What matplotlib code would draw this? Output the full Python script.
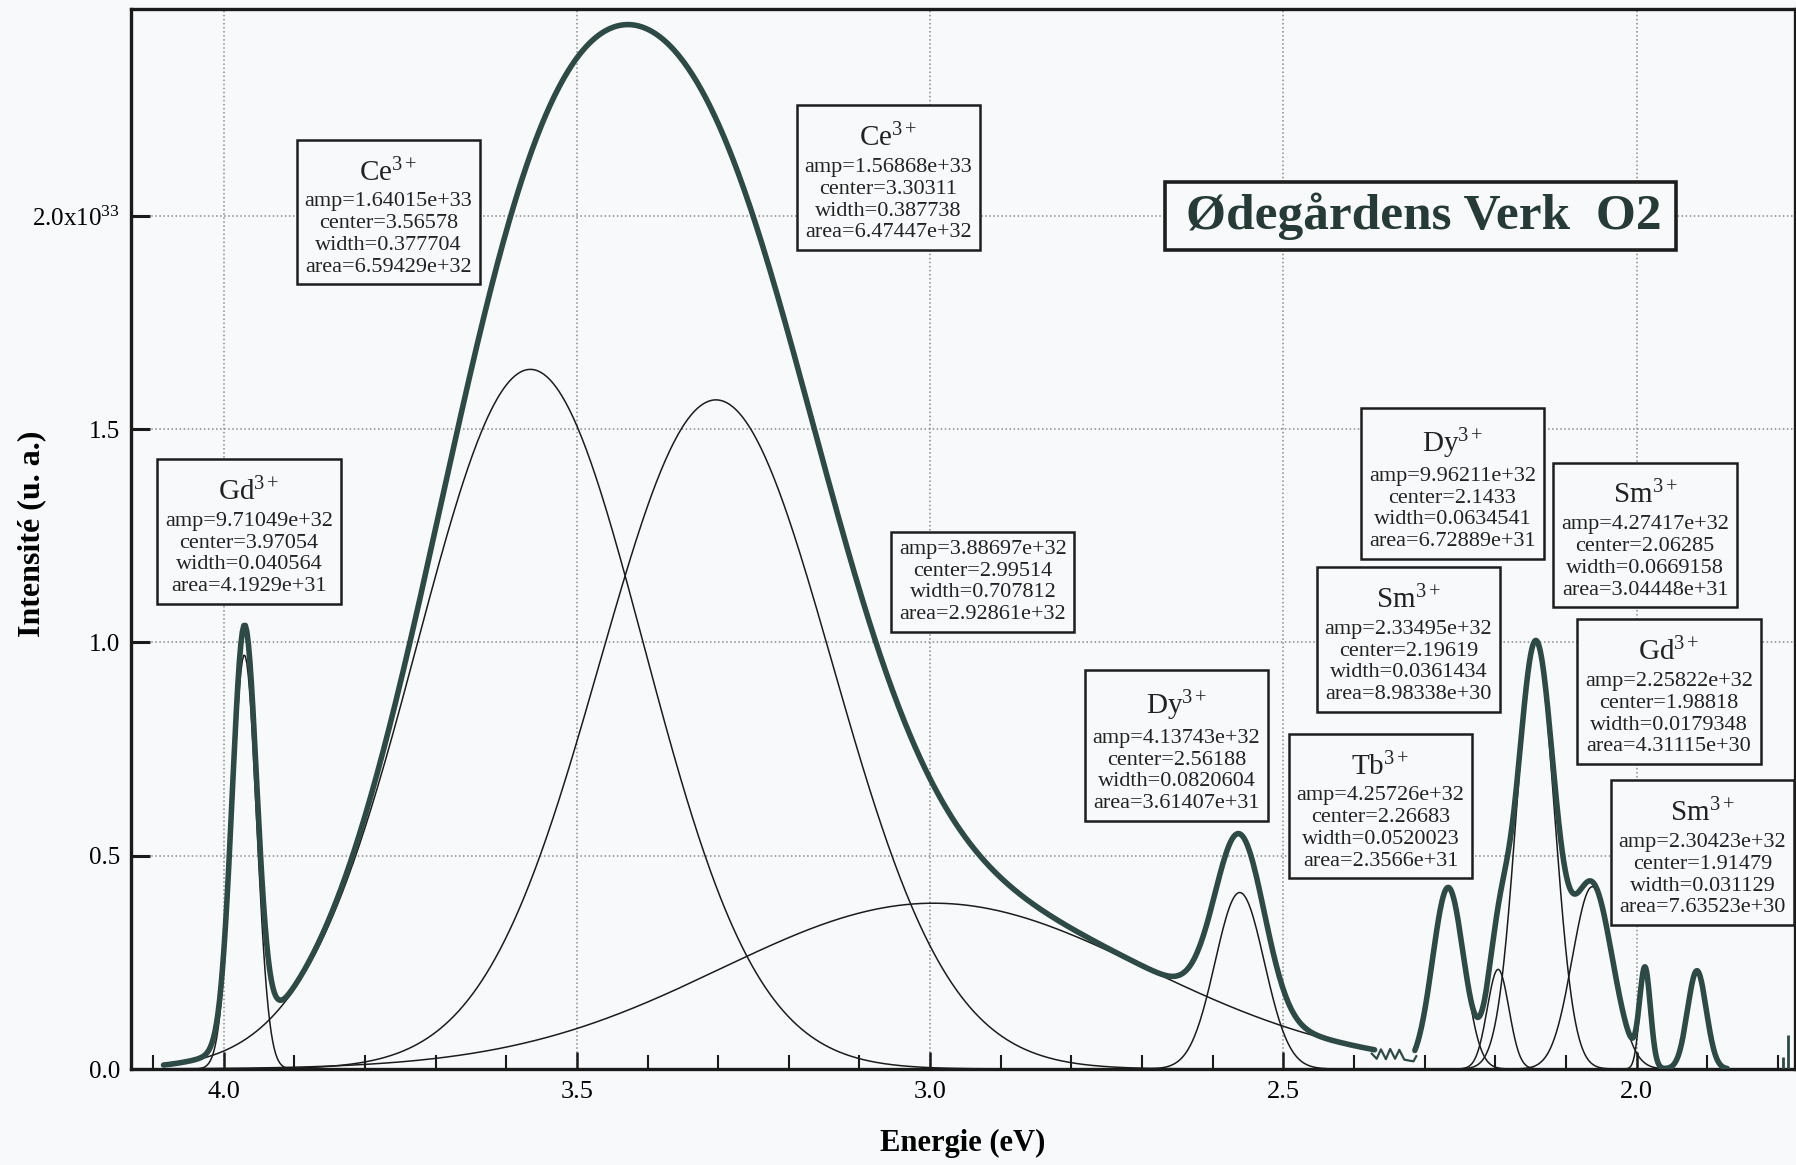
import numpy as np
import matplotlib
matplotlib.use("Agg")
import matplotlib.pyplot as plt
from matplotlib.offsetbox import TextArea, VPacker, AnnotationBbox, DrawingArea
from matplotlib.patches import Rectangle
from matplotlib.ticker import MultipleLocator

# ---------------------------------------------------------------------------
# Fitted gaussian peaks, values as printed in the boxes (width = FWHM)
# ---------------------------------------------------------------------------
ION = ["Gd", "Ce", "Ce", "", "Dy", "Tb", "Sm", "Dy", "Sm", "Gd", "Sm"]
AMP = [9.71049e32, 1.64015e33, 1.56868e33, 3.88697e32, 4.13743e32,
       4.25726e32, 2.33495e32, 9.96211e32, 4.27417e32, 2.25822e32, 2.30423e32]
CENTER = [3.97054, 3.56578, 3.30311, 2.99514, 2.56188,
          2.26683, 2.19619, 2.1433, 2.06285, 1.98818, 1.91479]
WIDTH = [0.040564, 0.377704, 0.387738, 0.707812, 0.0820604,
         0.0520023, 0.0361434, 0.0634541, 0.0669158, 0.0179348, 0.031129]
AREA = [4.1929e31, 6.59429e32, 6.47447e32, 2.92861e32, 3.61407e31,
        2.3566e31, 8.98338e30, 6.72889e31, 3.04448e31, 4.31115e30, 7.63523e30]
FIT_GROUP = [0, 0, 0, 0, 0, 1, 1, 1, 1, 1, 1]
FIT_RANGE = [(4.085, 2.371), (2.314, 1.872)]

NOISE_E = [2.375, 2.368, 2.362, 2.355, 2.349, 2.342, 2.336, 2.329, 2.323,
           2.316, 2.312]
NOISE_I = [3.6e31, 2.4e31, 4.6e31, 2.3e31, 4.7e31, 2.4e31, 4.5e31, 2.2e31,
           2.0e31, 1.8e31, 3.0e31]
SPIKE_E = [1.793, 1.786]
SPIKE_I = [2.8e31, 8.0e31]

Y_TICKS = [0.0, 0.5e33, 1.0e33, 1.5e33, 2.0e33]
Y_TICK_LABELS = ["0.0", "0.5", "1.0", "1.5", "2.0x10$^{33}$"]
X_TICKS = [4.0, 3.5, 3.0, 2.5, 2.0]
TITLE = "Ødegårdens Verk  O2"

# box centres in axes fraction, same order as the peaks
BOX_POS = [(0.0709, 0.5071), (0.1548, 0.8085), (0.4552, 0.841), (0.512, 0.4594),
           (0.6283, 0.3052), (0.7509, 0.2481), (0.7677, 0.4052),
           (0.7942, 0.5524), (0.9099, 0.5038), (0.9243, 0.3561),
           (0.9444, 0.2042)]

FIT_COLOR = "#2e4a46"
LINE_COLOR = "#1c1c1c"
BG = "#f7f9fa"
SERIF = "Liberation Serif"


def gauss(e, amp, c, w):
    return amp * np.exp(-4 * np.log(2) * ((e - c) / w) ** 2)


def main():
    plt.rcParams.update({
        "font.family": SERIF,
        "mathtext.fontset": "custom",
        "mathtext.rm": SERIF,
        "mathtext.it": SERIF + ":italic",
        "mathtext.bf": SERIF + ":bold",
    })

    fig = plt.figure(figsize=(17.96, 11.65), dpi=100, facecolor=BG)
    # axes box: x 131..1795 px, y 9..1069 px
    ax = fig.add_axes([131 / 1796, 96 / 1165, 1664 / 1796, 1060 / 1165],
                      facecolor=BG)

    # components and total fit, per fit window
    for g, (e_hi, e_lo) in enumerate(FIT_RANGE):
        e = np.linspace(e_lo, e_hi, 800)
        total = np.zeros_like(e)
        for i in range(len(AMP)):
            if FIT_GROUP[i] != g:
                continue
            comp = gauss(e, AMP[i], CENTER[i], WIDTH[i])
            total += comp
            ax.plot(e, comp, color=LINE_COLOR, lw=1.1, zorder=3)
        ax.plot(e, total, color=FIT_COLOR, lw=4.0, zorder=4,
                solid_capstyle="round")

    ax.plot(NOISE_E, NOISE_I, color=FIT_COLOR, lw=1.6, zorder=4)
    ax.vlines(SPIKE_E, 0, SPIKE_I, color=FIT_COLOR, lw=2, zorder=4)

    ax.set_xlim(4.131, 1.776)
    ax.set_ylim(0, 2.485e33)

    ax.set_xticks(X_TICKS)
    ax.set_xticklabels([f"{v:.1f}" for v in X_TICKS])
    ax.xaxis.set_minor_locator(MultipleLocator(0.1))
    ax.set_yticks(Y_TICKS)
    ax.set_yticklabels(Y_TICK_LABELS)
    ax.tick_params(axis="x", which="major", direction="in", length=12,
                   width=1.8, labelsize=19, pad=9, color="#1a1a1a")
    ax.tick_params(axis="x", which="minor", direction="in", length=10,
                   width=1.5, color="#1a1a1a")
    ax.tick_params(axis="y", which="major", direction="in", length=14,
                   width=2.2, labelsize=18, pad=8, color="#1a1a1a")
    for sp in ax.spines.values():
        sp.set_linewidth(2.4)
        sp.set_color("#1a1a1a")
    ax.grid(True, which="major", ls=":", color="#8a8a8a", lw=1.1, zorder=1)

    fig.text(963 / 1796, 1 - 1143 / 1165, "Energie (eV)", fontsize=22,
             fontweight="bold", ha="center", va="center")
    fig.text(32 / 1796, 1 - 534 / 1165, "Intensité (u. a.)", fontsize=23,
             fontweight="bold", ha="center", va="center", rotation=90)

    # parameter boxes
    for i in range(len(AMP)):
        params = (f"amp={AMP[i]:g}\ncenter={CENTER[i]:g}\n"
                  f"width={WIDTH[i]:g}\narea={AREA[i]:g}")
        body = TextArea(params, textprops=dict(fontsize=16, color="#222",
                                               multialignment="center",
                                               linespacing=1.2))
        children = [body]
        if ION[i]:
            head = TextArea(ION[i] + "$^{3+}$",
                            textprops=dict(fontsize=21, color="#222"))
            children = [DrawingArea(1, 4), head, body]
        pack = VPacker(children=children, align="center", pad=0, sep=4)
        ab = AnnotationBbox(pack, BOX_POS[i], xycoords="axes fraction",
                            box_alignment=(0.5, 0.5), frameon=True,
                            bboxprops=dict(boxstyle="square,pad=0.55", lw=1.8,
                                           ec="#1e1e1e", fc=BG), zorder=6)
        ax.add_artist(ab)

    # title box
    ax.add_patch(Rectangle((0.6214, 0.7726), 0.3071, 0.0642,
                           transform=ax.transAxes, lw=2.6, ec="#1e1e1e",
                           fc=BG, zorder=6))
    ax.text(0.7767, 0.8047, TITLE, transform=ax.transAxes, fontsize=37,
            fontweight="bold", color="#263b38", ha="center", va="center",
            zorder=7)

    fig.savefig("out.png", dpi=100, facecolor=fig.get_facecolor())
    plt.close(fig)


if __name__ == "__main__":
    main()
